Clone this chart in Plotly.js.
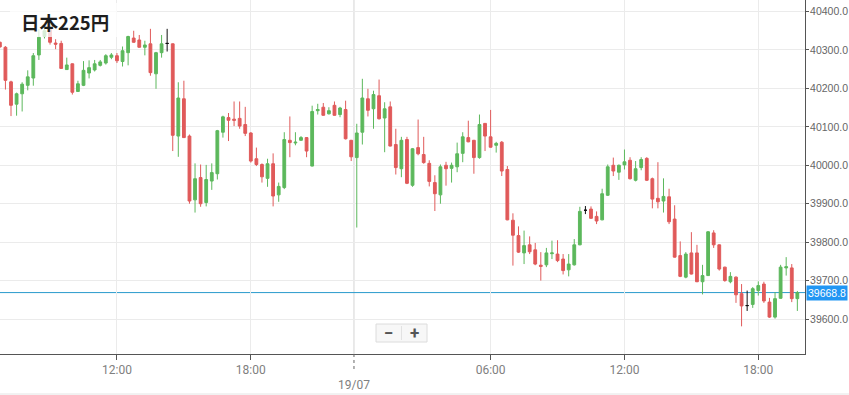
<!DOCTYPE html>
<html><head><meta charset="utf-8">
<script src="https://cdn.plot.ly/plotly-3.0.1.min.js"></script>
<style>html,body{margin:0;padding:0;background:#fff;}#chart{width:849px;height:395px;}</style>
</head><body><div id="chart"></div>
<script>
// ---- data ----
const chartTitle = '日本225円';
const sessionStart = [2024, 6, 18, 6, 45];   // first 15-min candle (UTC-style fields, month 0-based)
const sessionPause = [2024, 6, 18, 22, 45];  // first missing candle
const sessionResume = [2024, 6, 19, 0, 0];   // first candle after the pause
const stepMinutes = 15;
const opens = [40320,40307,40217,40159,40186,40208,40227,40287,40335,40354,
 40318,40317,40249,40264,40192,40208,40240,40248,40260,40266,
 40281,40285,40270,40293,40331,40326,40307,40316,40238,40293,
 40317,40316,40076,40173,40076,39910,39968,39903,39959,39978,
 40086,40124,40120,40122,40106,40084,40017,40002,39966,40004,
 39923,39942,40065,40058,40065,40072,39998,40142,40151,40134,
 40156,40132,40145,40065,40020,40086,40173,40147,40181,40123,
 40152,40054,39991,40067,39948,40046,40028,40005,39955,39923,
 40000,39992,39996,40031,40072,40065,40020,40109,40074,40052,
 40060,39989,39857,39817,39772,39793,39780,39740,39741,39770,
 39769,39756,39728,39741,39793,39883,39886,39867,39858,39922,
 40000,39982,40001,40013,39961,39994,40018,39965,39914,39907,
 39918,39860,39765,39709,39772,39772,39697,39713,39824,39793,
 39735,39697,39709,39666,39635,39638,39674,39691,39644,39605,
 39654,39733,39733,39653];
const highs = [40322,40310,40220,40189,40216,40247,40292,40354,40360,40356,
 40328,40324,40280,40265,40220,40271,40273,40274,40274,40289,
 40292,40292,40309,40337,40350,40339,40324,40355,40295,40339,
 40355,40317,40216,40220,40080,40005,40002,40001,40005,40092,
 40129,40136,40166,40166,40152,40086,40046,40005,40017,40031,
 39955,40086,40127,40086,40076,40073,40155,40160,40162,40151,
 40166,40152,40168,40066,40108,40225,40199,40194,40223,40164,
 40166,40095,40074,40074,40045,40119,40074,40013,39974,40002,
 40009,40007,40059,40086,40116,40066,40132,40110,40144,40061,
 40063,39998,39875,39841,39830,39815,39798,39774,39785,39804,
 39805,39769,39769,39808,39892,39894,39893,39880,39939,40002,
 40020,40002,40041,40021,40011,40021,40021,39968,40008,39966,
 39939,39896,39802,39774,39826,39793,39741,39829,39831,39794,
 39736,39722,39711,39691,39674,39683,39698,39697,39655,39670,
 39741,39761,39743,39673];
const lows = [40305,40197,40128,40129,40140,40195,40207,40274,40330,40314,
 40302,40251,40249,40184,40192,40206,40226,40244,40257,40262,
 40276,40266,40257,40260,40319,40306,40286,40233,40199,40280,
 40296,40037,40022,40071,39900,39877,39892,39893,39936,39963,
 40072,40063,40102,40095,40076,40007,39998,39955,39944,39893,
 39905,39938,40021,40052,40064,40021,39997,40132,40129,40132,
 40129,40125,40067,40011,39838,40054,40127,40095,40119,40034,
 40049,39976,39969,39951,39944,40026,40004,39945,39881,39900,
 39947,39955,39982,40008,40060,39978,40017,40037,40046,40033,
 39972,39857,39739,39772,39743,39769,39740,39700,39735,39756,
 39748,39716,39711,39739,39792,39873,39861,39847,39857,39920,
 39972,39962,39989,39963,39958,39987,39959,39888,39888,39877,
 39847,39760,39709,39706,39716,39696,39664,39712,39785,39726,
 39697,39693,39642,39581,39621,39629,39661,39642,39603,39601,
 39653,39713,39644,39621];
const closes = [40308,40221,40156,40186,40211,40230,40285,40333,40350,40320,
 40315,40252,40261,40190,40212,40247,40254,40264,40269,40285,
 40287,40272,40298,40335,40320,40307,40313,40241,40293,40316,
 40317,40078,40175,40072,39907,39965,39900,39963,39981,40090,
 40126,40117,40117,40102,40083,40011,40002,39970,40004,39920,
 39945,40067,40059,40060,40072,40037,40140,40145,40130,40142,
 40130,40149,40069,40022,40084,40175,40143,40184,40121,40147,
 40050,39994,40065,39953,40043,40030,40007,39958,39926,39996,
 39991,40000,40030,40074,40061,40020,40106,40076,40047,40057,
 39985,39858,39818,39774,39791,39775,39743,39737,39772,39772,
 39752,39726,39743,39793,39880,39883,39862,39855,39926,39996,
 39985,40000,40009,39965,39991,40015,39961,39912,39905,39919,
 39853,39761,39711,39769,39717,39697,39713,39827,39793,39730,
 39700,39711,39663,39634,39635,39679,39687,39647,39605,39653,
 39735,39736,39653,39668.8];
const lastPrice = 39668.8;
const tickTimes = ['2024-07-18 12:00','2024-07-18 18:00','2024-07-19 06:00','2024-07-19 12:00','2024-07-19 18:00'];
const tickLabels = ['12:00','18:00','06:00','12:00','18:00'];
const dayLabel = '19/07';
const viewStart = '2024-07-18 06:45:24';
const viewEnd = '2024-07-19 20:05:36';
const priceRange = [39509, 40430];

// ---- build ----
const GREEN = '#5cb85c', RED = '#e05a5a';
const STEP = stepMinutes * 60000;
const p2 = n => String(n).padStart(2, '0');
function fmt(ms) {
  const d = new Date(ms);
  return d.getUTCFullYear() + '-' + p2(d.getUTCMonth() + 1) + '-' + p2(d.getUTCDate()) + ' ' +
    p2(d.getUTCHours()) + ':' + p2(d.getUTCMinutes()) + ':' + p2(d.getUTCSeconds());
}
const t0 = Date.UTC(...sessionStart);
const tPause = Date.UTC(...sessionPause);
const tResume = Date.UTC(...sessionResume);
const times = opens.map((_, i) => {
  let t = t0 + i * STEP;
  if (t >= tPause) t += tResume - tPause;
  return fmt(t);
});
const breakBounds = [fmt(tPause - STEP / 2), fmt(tResume - STEP / 2)];
const dayBoundary = breakBounds[1];

const mainIdx = [], dojiIdx = [];
opens.forEach((o, i) => (o === closes[i] ? dojiIdx : mainIdx).push(i));
const pick = (arr, idx) => idx.map(i => arr[i]);

const traces = [
  {
    type: 'candlestick',
    x: pick(times, mainIdx), open: pick(opens, mainIdx), high: pick(highs, mainIdx),
    low: pick(lows, mainIdx), close: pick(closes, mainIdx),
    increasing: {line: {color: GREEN, width: 1}, fillcolor: GREEN},
    decreasing: {line: {color: RED, width: 1}, fillcolor: RED},
    whiskerwidth: 0, showlegend: false, hoverinfo: 'none'
  },
  {
    type: 'candlestick',
    x: pick(times, dojiIdx), open: pick(opens, dojiIdx), high: pick(highs, dojiIdx),
    low: pick(lows, dojiIdx), close: pick(closes, dojiIdx),
    increasing: {line: {color: '#111', width: 1}, fillcolor: '#111'},
    decreasing: {line: {color: '#111', width: 1}, fillcolor: '#111'},
    whiskerwidth: 0, showlegend: false, hoverinfo: 'none'
  }
];

const PW = 805, PH = 354; // plot area in px
const px = v => v / PW, py = v => 1 - v / PH;
const SANS = '"Liberation Sans", Arial, sans-serif';

const layout = {
  width: 849, height: 395,
  margin: {l: 0, r: 44, t: 0, b: 41, pad: 0},
  paper_bgcolor: '#fff', plot_bgcolor: '#fff',
  showlegend: false,
  boxgap: 0.5, boxgroupgap: 0,
  font: {family: 'Roboto, "Noto Sans", sans-serif', color: '#666'},
  xaxis: {
    type: 'date', range: [viewStart, viewEnd], automargin: false,
    rangebreaks: [{bounds: breakBounds}],
    rangeslider: {visible: false},
    tickmode: 'array', tickvals: tickTimes, ticktext: tickLabels,
    ticks: 'outside', ticklen: 5, tickcolor: '#555', tickwidth: 1,
    showline: true, linecolor: '#555', linewidth: 1,
    showgrid: true, gridcolor: '#ebebeb', gridwidth: 1, zeroline: false,
    tickfont: {family: 'Roboto, sans-serif', size: 12, color: '#808080'}, fixedrange: true
  },
  yaxis: {
    side: 'right', range: priceRange, automargin: false,
    dtick: 100, tick0: 0, tickformat: '.1f',
    ticks: 'outside', ticklen: 3, tickcolor: '#555', tickwidth: 1,
    ticklabelstandoff: -1,
    showline: true, linecolor: '#555', linewidth: 1,
    showgrid: true, gridcolor: '#ebebeb', gridwidth: 1, zeroline: false,
    tickfont: {family: SANS, size: 10.5, color: '#666'}, fixedrange: true
  },
  shapes: [
    {type: 'line', xref: 'x', yref: 'paper', x0: dayBoundary, x1: dayBoundary, y0: 0, y1: 1,
     line: {color: '#d4d4d4', width: 1}, layer: 'below'},
    {type: 'line', xref: 'x', yref: 'paper', x0: dayBoundary, x1: dayBoundary, y0: 0, y1: -18 / PH,
     line: {color: '#666', width: 1, dash: 'dot'}, layer: 'above'},
    {type: 'line', xref: 'paper', yref: 'y', x0: 0, x1: 1, y0: lastPrice, y1: lastPrice,
     line: {color: '#2a9bcc', width: 1}, layer: 'below'},
    {type: 'rect', xref: 'paper', yref: 'paper', x0: px(10), x1: px(117), y0: py(37), y1: py(3),
     fillcolor: 'rgba(255,255,255,0.75)', line: {width: 0}, layer: 'above'},
    {type: 'rect', xref: 'paper', yref: 'paper', x0: px(376), x1: px(427), y0: py(342), y1: py(324),
     fillcolor: '#f7f7f7', line: {color: '#dcdcdc', width: 1}, layer: 'above'},
    {type: 'line', xref: 'paper', yref: 'paper', x0: px(401.5), x1: px(401.5), y0: py(340), y1: py(326),
     line: {color: '#e2e2e2', width: 1}, layer: 'above'},
    {type: 'line', xref: 'paper', yref: 'paper', x0: 0, x1: 849 / PW, y0: py(394), y1: py(394),
     line: {color: '#e4e4e4', width: 1}, layer: 'above'}
  ],
  annotations: [
    {text: '<b>' + chartTitle + '</b>', xref: 'paper', yref: 'paper', x: px(19), y: py(21.5),
     xanchor: 'left', yanchor: 'middle', showarrow: false,
     font: {family: '"Noto Sans CJK JP", "Noto Sans", sans-serif', size: 18.5, color: '#1e1e1e'}},
    {text: lastPrice.toFixed(1), xref: 'paper', yref: 'y', x: 1, y: lastPrice, xshift: 1,
     xanchor: 'left', yanchor: 'middle', showarrow: false, bgcolor: '#2196f3', borderpad: 1,
     font: {family: SANS, size: 10.5, color: '#fff'}},
    {text: dayLabel, xref: 'x', yref: 'paper', x: dayBoundary, y: 0, yshift: -22,
     xanchor: 'center', yanchor: 'top', showarrow: false,
     font: {family: 'Roboto, sans-serif', size: 12, color: '#808080'}},
    {text: '<b>−</b>', xref: 'paper', yref: 'paper', x: px(388.5), y: py(333),
     xanchor: 'center', yanchor: 'middle', showarrow: false, font: {size: 17, color: '#555'}},
    {text: '<b>+</b>', xref: 'paper', yref: 'paper', x: px(414.5), y: py(333),
     xanchor: 'center', yanchor: 'middle', showarrow: false, font: {size: 17, color: '#555'}}
  ]
};

Plotly.newPlot('chart', traces, layout, {displayModeBar: false, staticPlot: true});
</script>
</body></html>
